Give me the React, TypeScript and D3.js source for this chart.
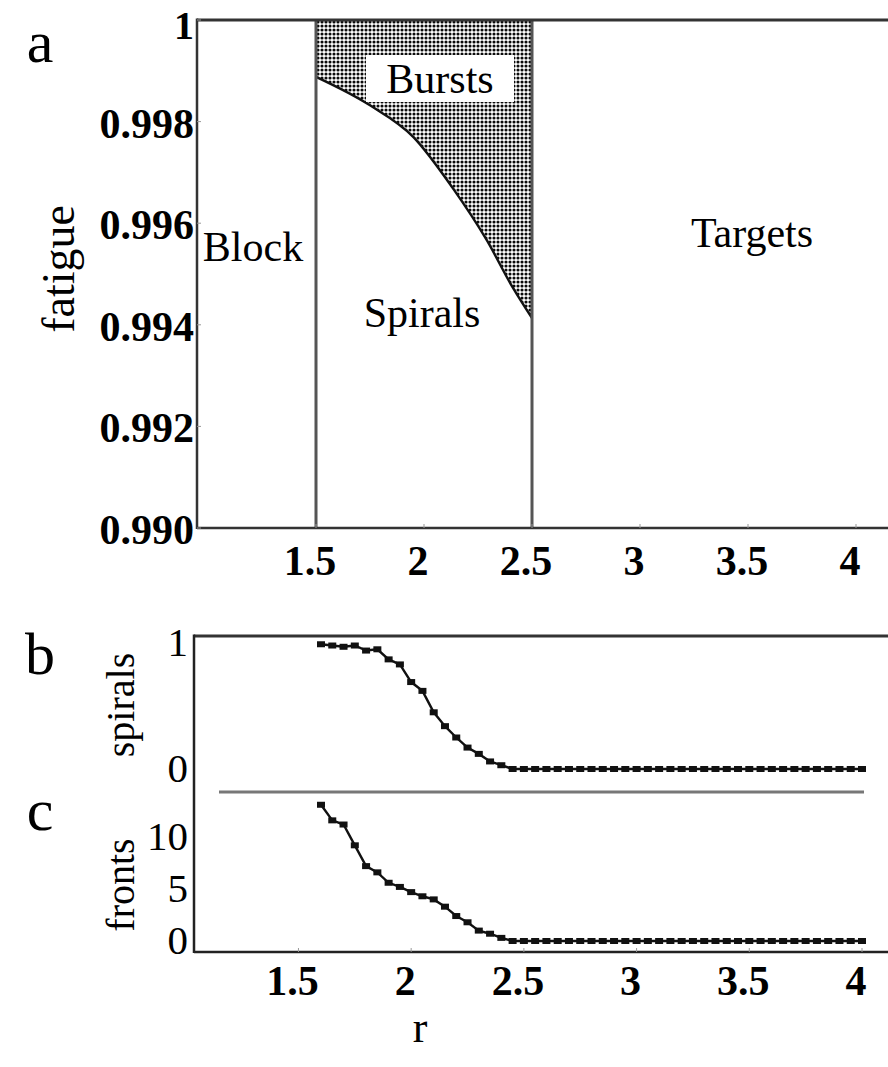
import React from "react";
import * as d3 from "d3";

// panel a: phase diagram (r vs fatigue)
const burstR = [1.5, 1.75, 1.95, 2.13, 2.29, 2.41, 2.5];
const burstF = [0.99888, 0.99832, 0.9977, 0.99671, 0.99567, 0.99474, 0.99413];
const fatigueTicks = [1, 0.998, 0.996, 0.994, 0.992, 0.99];
const fatigueLabels = ["1", "0.998", "0.996", "0.994", "0.992", "0.990"];
const rTicks = [1.5, 2, 2.5, 3, 3.5, 4];
const rLabels = ["1.5", "2", "2.5", "3", "3.5", "4"];
const regionLines = [1.5, 2.5];

// panels b and c: samples along r
const rSamples = [
  1.6, 1.65, 1.7, 1.75, 1.8, 1.85, 1.9, 1.95, 2.0, 2.05, 2.1, 2.15, 2.2, 2.25,
  2.3, 2.35, 2.4, 2.45, 2.5, 2.55, 2.6, 2.65, 2.7, 2.75, 2.8, 2.85, 2.9, 2.95,
  3.0, 3.05, 3.1, 3.15, 3.2, 3.25, 3.3, 3.35, 3.4, 3.45, 3.5, 3.55, 3.6, 3.65,
  3.7, 3.75, 3.8, 3.85, 3.9, 3.95, 4.0,
];
const spirals = [
  0.99, 0.98, 0.97, 0.98, 0.94, 0.95, 0.87, 0.83, 0.69, 0.62, 0.45, 0.34, 0.25,
  0.17, 0.12, 0.06, 0.03, 0, 0, 0, 0, 0, 0, 0, 0, 0, 0, 0, 0, 0, 0, 0, 0, 0, 0,
  0, 0, 0, 0, 0, 0, 0, 0, 0, 0, 0, 0, 0, 0,
];
const fronts = [
  13.1, 11.6, 11.2, 9.2, 7.2, 6.6, 5.6, 5.2, 4.7, 4.3, 4.0, 3.3, 2.4, 1.8, 1.0,
  0.7, 0.3, 0, 0, 0, 0, 0, 0, 0, 0, 0, 0, 0, 0, 0, 0, 0, 0, 0, 0, 0, 0, 0, 0, 0,
  0, 0, 0, 0, 0, 0, 0, 0, 0,
];
const spiralTicks = [0, 1];
const frontTicks = [0, 5, 10];

const serif = "'Liberation Serif', 'Times New Roman', serif";

export default function App() {
  const width = 888;
  const height = 1067;

  const xA = d3.scaleLinear().domain([1.5, 2.5]).range([316, 532]);
  const yA = d3.scaleLinear().domain([0.99, 1]).range([528, 20]);
  const axLeft = 197;

  const xBC = d3.scaleLinear().domain([1.6, 4.0]).range([321, 862]);
  const yB = d3.scaleLinear().domain([0, 1]).range([769, 643]);
  const yC = d3.scaleLinear().domain([0, 10]).range([941, 837]);
  const bcLeft = 194;

  const burst = burstR.map((r, i) => ({ r, f: burstF[i] }));
  const burstArea = d3
    .area<{ r: number; f: number }>()
    .x((d) => xA(d.r))
    .y0(yA(1))
    .y1((d) => yA(d.f))
    .curve(d3.curveMonotoneX);
  const burstLine = d3
    .line<{ r: number; f: number }>()
    .x((d) => xA(d.r))
    .y((d) => yA(d.f))
    .curve(d3.curveMonotoneX);

  const spiralPts = rSamples.map((r, i) => [xBC(r), yB(spirals[i])] as [number, number]);
  const frontPts = rSamples.map((r, i) => [xBC(r), yC(fronts[i])] as [number, number]);
  const line = d3.line();

  return (
    <svg
      width={width}
      height={height}
      style={{ position: "absolute", left: 0, top: 0, background: "#fff" }}
      fontFamily={serif}
    >
      <defs>
        <pattern id="dots" width={4} height={4} patternUnits="userSpaceOnUse">
          <rect width={4} height={4} fill="#fff" />
          <circle cx={2} cy={2} r={1.55} fill="#0a0a0a" />
        </pattern>
      </defs>

      {/* ---------- panel a ---------- */}
      <text x={40} y={62} fontSize={60} textAnchor="middle">a</text>

      <path d={burstArea(burst) ?? ""} fill="url(#dots)" />
      <path d={burstLine(burst) ?? ""} fill="none" stroke="#111" strokeWidth={2.4} />
      <rect x={366} y={55} width={148} height={47} fill="#fff" />
      <text x={440} y={93} fontSize={42} textAnchor="middle">Bursts</text>

      {regionLines.map((r) => (
        <line key={r} x1={xA(r)} x2={xA(r)} y1={yA(1)} y2={yA(0.99)} stroke="#555" strokeWidth={3} />
      ))}
      <line x1={axLeft} x2={width} y1={yA(1)} y2={yA(1)} stroke="#333" strokeWidth={3} />
      <line x1={axLeft} x2={width} y1={yA(0.99)} y2={yA(0.99)} stroke="#333" strokeWidth={2.5} />
      <line x1={axLeft} x2={axLeft} y1={yA(1) - 1.5} y2={yA(0.99) + 1} stroke="#333" strokeWidth={2.5} />

      {fatigueTicks.map((t, i) => (
        <g key={t}>
          <line x1={axLeft} x2={axLeft + 4} y1={yA(t)} y2={yA(t)} stroke="#999" strokeWidth={1} />
          <text
            x={axLeft - 3}
            y={yA(t) + (t === 1 ? 19 : 16)}
            fontSize={t === 1 ? 40 : 42}
            fontWeight="bold"
            textAnchor="end"
          >
            {fatigueLabels[i]}
          </text>
        </g>
      ))}
      {rTicks.map((t, i) => (
        <g key={t}>
          <line x1={xA(t)} x2={xA(t)} y1={yA(0.99)} y2={yA(0.99) - 4} stroke="#999" strokeWidth={1} />
          <text x={xA(t) - 6} y={yA(0.99) + 47} fontSize={42} fontWeight="bold" textAnchor="middle">
            {rLabels[i]}
          </text>
        </g>
      ))}
      <text
        transform={`translate(74, ${yA(0.995) - 5}) rotate(-90)`}
        fontSize={46}
        textAnchor="middle"
      >
        fatigue
      </text>
      <text x={253} y={261} fontSize={42} textAnchor="middle">Block</text>
      <text x={422} y={327} fontSize={42} textAnchor="middle">Spirals</text>
      <text x={752} y={247} fontSize={42} textAnchor="middle">Targets</text>

      {/* ---------- panels b & c ---------- */}
      <text x={40} y={674} fontSize={60} textAnchor="middle">b</text>
      <text x={40} y={830} fontSize={60} textAnchor="middle">c</text>

      <line x1={bcLeft} x2={width} y1={636} y2={636} stroke="#333" strokeWidth={3} />
      <line x1={bcLeft} x2={bcLeft} y1={634.5} y2={953} stroke="#222" strokeWidth={2.5} />
      <line x1={bcLeft} x2={width} y1={952} y2={952} stroke="#222" strokeWidth={2.5} />
      <line x1={219} x2={864} y1={792} y2={792} stroke="#777" strokeWidth={3} />

      {spiralTicks.map((t) => (
        <text key={t} x={188} y={yB(t) + 13} fontSize={41} textAnchor="end">{t}</text>
      ))}
      {frontTicks.map((t) => (
        <text key={t} x={188} y={yC(t) + 13} fontSize={41} textAnchor="end">{t}</text>
      ))}
      {rTicks.map((t, i) => (
        <g key={t}>
          <line x1={xBC(t)} x2={xBC(t)} y1={952} y2={948} stroke="#999" strokeWidth={1} />
          <text x={xBC(t) - 6} y={995} fontSize={42} fontWeight="bold" textAnchor="middle">
            {rLabels[i]}
          </text>
        </g>
      ))}
      <text transform="translate(134, 705) rotate(-90)" fontSize={40} textAnchor="middle">spirals</text>
      <text transform="translate(134, 885) rotate(-90)" fontSize={40} textAnchor="middle">fronts</text>
      <text x={420} y={1042} fontSize={44} textAnchor="middle">r</text>

      <path d={line(spiralPts) ?? ""} fill="none" stroke="#111" strokeWidth={2.4} />
      {spiralPts.map(([x, y], i) => (
        <rect key={i} x={x - 4} y={y - 3} width={8} height={6} fill="#111" />
      ))}
      <path d={line(frontPts) ?? ""} fill="none" stroke="#111" strokeWidth={2.4} />
      {frontPts.map(([x, y], i) => (
        <rect key={i} x={x - 4} y={y - 3} width={8} height={6} fill="#111" />
      ))}
    </svg>
  );
}
